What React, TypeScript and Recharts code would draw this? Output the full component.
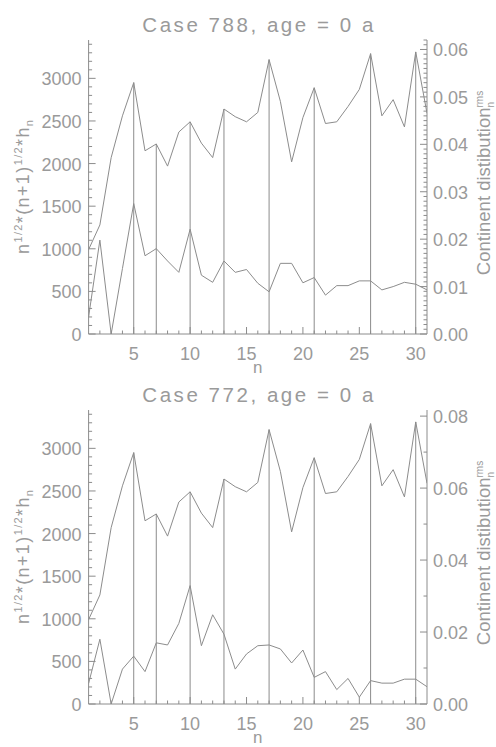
import { LineChart, Line, XAxis, YAxis, ReferenceLine, Customized } from 'recharts';

// harmonic degree n
const DEGREES = [
  1, 2, 3, 4, 5, 6, 7, 8, 9, 10, 11, 12, 13, 14, 15, 16,
  17, 18, 19, 20, 21, 22, 23, 24, 25, 26, 27, 28, 29, 30, 31,
];

// n^1/2 (n+1)^1/2 h_n, same topography spectrum in both cases
const SPECTRUM = [
  990, 1280, 2070, 2560, 2950, 2150, 2230, 1970, 2370, 2490, 2240, 2070, 2640, 2550, 2490, 2600,
  3220, 2730, 2020, 2540, 2890, 2470, 2490, 2670, 2870, 3290, 2560, 2750, 2430, 3310, 2590,
];

// rms continent distribution per degree
const CONT_788 = [
  0.0036, 0.0198, 0.0, 0.0138, 0.0275, 0.0165, 0.018, 0.0154, 0.013, 0.0221, 0.0124, 0.0109, 0.0154, 0.013, 0.0136, 0.0107,
  0.0089, 0.0149, 0.0149, 0.0108, 0.0119, 0.0082, 0.0102, 0.0102, 0.0112, 0.0112, 0.0093, 0.01, 0.0109, 0.0105, 0.0093,
];
const CONT_772 = [
  0.0057, 0.018, 0.0, 0.0097, 0.0133, 0.009, 0.017, 0.0164, 0.0224, 0.0329, 0.0162, 0.0248, 0.0194, 0.0097, 0.0139, 0.0162,
  0.0164, 0.0153, 0.0114, 0.015, 0.0074, 0.009, 0.004, 0.0071, 0.0019, 0.0065, 0.0058, 0.0058, 0.0069, 0.0069, 0.0048,
];

// degrees marked with a drop line
const PEAKS = [5, 7, 10, 13, 17, 21, 26, 30];

const X_LABELS = [5, 10, 15, 20, 25, 30];
const LEFT_LABELS = [0, 500, 1000, 1500, 2000, 2500, 3000];
const RIGHT_LABELS_788 = [0, 0.01, 0.02, 0.03, 0.04, 0.05, 0.06];
const RIGHT_LABELS_772 = [0, 0.02, 0.04, 0.06, 0.08];

const GREY = '#8c8c8c';
const INK = '#9a9a9a';
const FONT = '"Liberation Sans", Arial, sans-serif';
const PLOT_BOTTOM = 334;

const steps = (from: number, to: number, step: number) => {
  const out: number[] = [];
  for (let v = from; v <= to + 1e-9; v += step) out.push(+v.toFixed(6));
  return out;
};
const isLabel = (list: number[], v: number) => list.some((l) => Math.abs(l - v) < 1e-9);

const X_TICKS = steps(2, 30, 1);
const LEFT_TICKS = steps(0, 3400, 100);

function BottomTick({ x, y, payload }: any) {
  const major = isLabel(X_LABELS, payload.value);
  return (
    <g>
      <line x1={x} y1={y} x2={x} y2={y - (major ? 7 : 3.5)} stroke={GREY} />
      {major && (
        <text x={x} y={y + 26} textAnchor="middle" fill={INK} fontSize={18} fontFamily={FONT}>
          {payload.value}
        </text>
      )}
    </g>
  );
}

function TopTick({ x, y, payload }: any) {
  const major = isLabel(X_LABELS, payload.value);
  return <line x1={x} y1={y} x2={x} y2={y + (major ? 7 : 3.5)} stroke={GREY} />;
}

function LeftTick({ x, y, payload }: any) {
  const major = isLabel(LEFT_LABELS, payload.value);
  return (
    <g>
      <line x1={x} y1={y} x2={x + (major ? 7 : 3.5)} y2={y} stroke={GREY} />
      {major && (
        <text x={x - 7} y={y + 7} textAnchor="end" fill={INK} fontSize={18} fontFamily={FONT}>
          {payload.value}
        </text>
      )}
    </g>
  );
}

function makeRightTick(labels: number[]) {
  return ({ x, y, payload }: any) => {
    const major = isLabel(labels, payload.value);
    return (
      <g>
        <line x1={x} y1={y} x2={x - (major ? 7 : 3.5)} y2={y} stroke={GREY} />
        {major && (
          <text x={x + 6} y={y + 7} textAnchor="start" fill={INK} fontSize={18} fontFamily={FONT}>
            {payload.value.toFixed(2)}
          </text>
        )}
      </g>
    );
  };
}

interface PanelProps {
  caseNo: number;
  cont: number[];
  rightMax: number;
  rightLabels: number[];
  rightMinor: number;
  height: number;
}

function Panel({ caseNo, cont, rightMax, rightLabels, rightMinor, height }: PanelProps) {
  const rows = DEGREES.map((n, i) => ({ n, h: SPECTRUM[i], c: cont[i] }));
  const rightTicks = steps(0, rightMax, rightMinor);
  const RightTick = makeRightTick(rightLabels);

  return (
    <LineChart
      width={496}
      height={height}
      data={rows}
      margin={{ top: 40, right: 9, bottom: height - PLOT_BOTTOM - 30, left: 8.6 }}
    >
      <XAxis
        xAxisId="b"
        dataKey="n"
        type="number"
        domain={[1, 31]}
        allowDataOverflow
        ticks={X_TICKS}
        interval={0}
        tick={<BottomTick />}
        tickSize={0}
        tickMargin={0}
        tickLine={false}
        axisLine={{ stroke: GREY }}
        height={30}
      />
      <XAxis
        xAxisId="t"
        orientation="top"
        dataKey="n"
        type="number"
        domain={[1, 31]}
        allowDataOverflow
        ticks={X_TICKS}
        interval={0}
        tick={<TopTick />}
        tickSize={0}
        tickMargin={0}
        tickLine={false}
        axisLine={{ stroke: GREY }}
        height={0}
      />
      <YAxis
        yAxisId="left"
        type="number"
        domain={[0, 3450]}
        allowDataOverflow
        ticks={LEFT_TICKS}
        interval={0}
        tick={<LeftTick />}
        tickSize={0}
        tickMargin={0}
        tickLine={false}
        axisLine={{ stroke: GREY }}
        width={80}
      />
      <YAxis
        yAxisId="right"
        orientation="right"
        type="number"
        domain={[0, rightMax]}
        allowDataOverflow
        ticks={rightTicks}
        interval={0}
        tick={<RightTick />}
        tickSize={0}
        tickMargin={0}
        tickLine={false}
        axisLine={{ stroke: GREY }}
        width={60}
      />
      {PEAKS.map((n) => (
        <ReferenceLine
          key={n}
          xAxisId="b"
          yAxisId="left"
          segment={[
            { x: n, y: 0 },
            { x: n, y: SPECTRUM[DEGREES.indexOf(n)] },
          ]}
          stroke={GREY}
          strokeWidth={1}
        />
      ))}
      <Line
        xAxisId="b"
        yAxisId="left"
        dataKey="h"
        type="linear"
        stroke={GREY}
        strokeWidth={1}
        dot={false}
        isAnimationActive={false}
      />
      <Line
        xAxisId="b"
        yAxisId="right"
        dataKey="c"
        type="linear"
        stroke={GREY}
        strokeWidth={1}
        dot={false}
        isAnimationActive={false}
      />
      <Customized
        component={() => (
          <g fontFamily={FONT} fill={INK}>
            <text x={257.8} y={31.5} textAnchor="middle" fontSize={20.5} textLength={231} lengthAdjust="spacing">
              {`Case ${caseNo}, age = 0 a`}
            </text>
            <text x={257.8} y={373} textAnchor="middle" fontSize={17}>
              n
            </text>
            <text
              x={29}
              y={187}
              transform="rotate(-90 29 187)"
              textAnchor="middle"
              fontSize={18}
              textLength={134}
              lengthAdjust="spacing"
            >
              n<tspan dy={-7} fontSize={11}>1/2</tspan>
              <tspan dy={7}>*(n+1)</tspan>
              <tspan dy={-7} fontSize={11}>1/2</tspan>
              <tspan dy={7}>*h</tspan>
              <tspan dy={4} fontSize={11}>n</tspan>
            </text>
            <text x={490} y={183} transform="rotate(-90 490 183)" textAnchor="middle" fontSize={18.5}>
              Continent distibution
              <tspan dy={-7} fontSize={10}>rms</tspan>
              <tspan dx={-16.7} dy={11} fontSize={10}>n</tspan>
            </text>
          </g>
        )}
      />
    </LineChart>
  );
}

export default function App() {
  return (
    <div style={{ position: 'absolute', left: 0, top: 0, width: 496, height: 747, background: '#fff' }}>
      <div style={{ position: 'absolute', left: 0, top: 0 }}>
        <Panel
          caseNo={788}
          cont={CONT_788}
          rightMax={0.062}
          rightLabels={RIGHT_LABELS_788}
          rightMinor={0.001}
          height={378}
        />
      </div>
      <div style={{ position: 'absolute', left: 0, top: 370 }}>
        <Panel
          caseNo={772}
          cont={CONT_772}
          rightMax={0.0817}
          rightLabels={RIGHT_LABELS_772}
          rightMinor={0.01}
          height={377}
        />
      </div>
    </div>
  );
}
